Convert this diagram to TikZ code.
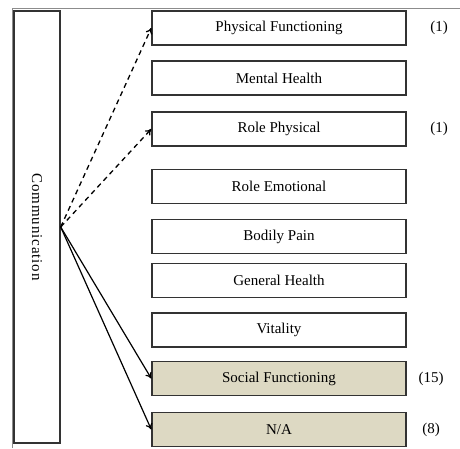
\documentclass[tikz,border=0pt]{standalone}
\usepackage{fontspec}
\setmainfont{Liberation Serif}
\usepackage{xcolor}
\usepackage{tikz}
\usetikzlibrary{positioning,arrows.meta}
\definecolor{frame400}{HTML}{8C8C8C}
\definecolor{line700}{HTML}{333333}
\definecolor{tan200}{HTML}{DDD9C3}
\tikzset{
  every node/.style={font=\fontsize{15}{17}\selectfont, text=black},
  dimbox/.style={
    rectangle, draw=line700, line width=1.4pt, fill=white,
    minimum width=254pt, minimum height=34pt,
    inner sep=0pt, align=center
  },
  dimhit/.style={dimbox, fill=tan200},
  srcbox/.style={
    rectangle, draw=line700, line width=1.4pt,
    minimum width=432pt, minimum height=46pt,
    inner sep=0pt, rotate=-90,
    font=\fontsize{15}{17}\selectfont\addfontfeature{LetterSpace=6}
  },
  tally/.style={inner sep=0pt},
  weak/.style={-{To[length=6pt,width=7pt]}, line width=1.3pt, dash pattern=on 5pt off 4pt, draw=black},
  strong/.style={-{To[length=6pt,width=7pt]}, line width=1.2pt, draw=black},
}
\begin{document}
\begin{tikzpicture}[x=1pt, y=-1pt]
  \useasboundingbox (0,0) rectangle (460,448);
  % outer frame
  \draw[frame400, line width=1.5pt] (12.5,448) -- (12.5,8.5) -- (460,8.5);

  \node[srcbox] (comm) at (37,227) {Communication};

  \node[dimbox] (pf) at (279,28) {Physical Functioning};
  \node[dimbox] (mh) at (279,78) {Mental Health};
  \node[dimbox] (rp) at (279,129) {Role Physical};
  \node[dimbox] (re) at (279,186.5) {Role Emotional};
  \node[dimbox] (bp) at (279,236.5) {Bodily Pain};
  \node[dimbox] (gh) at (279,280.5) {General Health};
  \node[dimbox] (vt) at (279,330) {Vitality};
  \node[dimhit] (sf) at (279,378.5) {Social Functioning};
  \node[dimhit] (na) at (279,429.5) {N/A};

  \node[tally] (npf) at (439,28) {(1)};
  \node[tally] (nrp) at (439,129) {(1)};
  \node[tally] (nsf) at (431,378.5) {(15)};
  \node[tally] (nna) at (431,429.5) {(8)};

  \draw[weak] (comm.north) -- (pf.west);
  \draw[weak] (comm.north) -- (rp.west);
  \draw[strong] (comm.north) -- (sf.west);
  \draw[strong] (comm.north) -- (na.west);
\end{tikzpicture}
\end{document}
